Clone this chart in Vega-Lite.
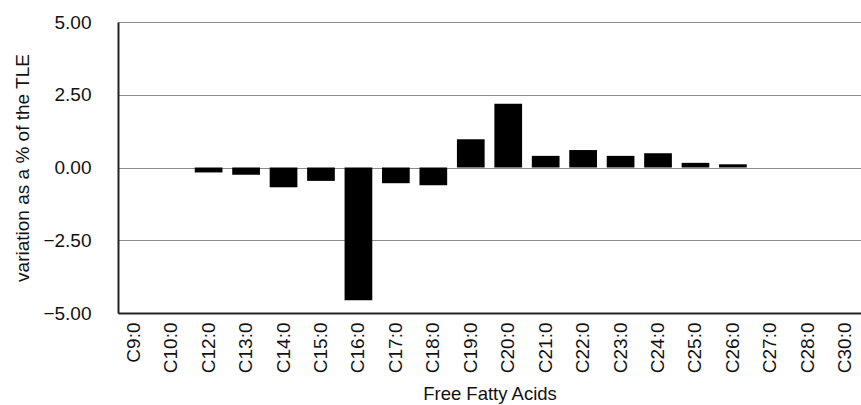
{
  "$schema": "https://vega.github.io/schema/vega-lite/v6.json",
  "width": 743,
  "height": 291,
  "autosize": "none",
  "padding": {"left": 118, "top": 22, "right": 0, "bottom": 92},
  "background": "white",
  "config": {
    "font": "Liberation Sans",
    "view": {"stroke": null}
  },
  "data": {
    "values": [
      {"acid": "C9:0", "variation": 0},
      {"acid": "C10:0", "variation": 0},
      {"acid": "C12:0", "variation": -0.17},
      {"acid": "C13:0", "variation": -0.25},
      {"acid": "C14:0", "variation": -0.68},
      {"acid": "C15:0", "variation": -0.46},
      {"acid": "C16:0", "variation": -4.56},
      {"acid": "C17:0", "variation": -0.54},
      {"acid": "C18:0", "variation": -0.61},
      {"acid": "C19:0", "variation": 0.97},
      {"acid": "C20:0", "variation": 2.19},
      {"acid": "C21:0", "variation": 0.4},
      {"acid": "C22:0", "variation": 0.6},
      {"acid": "C23:0", "variation": 0.4},
      {"acid": "C24:0", "variation": 0.49},
      {"acid": "C25:0", "variation": 0.16},
      {"acid": "C26:0", "variation": 0.11},
      {"acid": "C27:0", "variation": 0},
      {"acid": "C28:0", "variation": 0},
      {"acid": "C30:0", "variation": 0}
    ]
  },
  "mark": {"type": "bar", "color": "black"},
  "encoding": {
    "x": {
      "field": "acid",
      "type": "nominal",
      "sort": null,
      "scale": {"paddingInner": 0.26, "paddingOuter": 0.05},
      "axis": {
        "title": "Free Fatty Acids",
        "titleFontSize": 18.5,
        "titleFontWeight": "normal",
        "titleColor": "#111",
        "titlePadding": 12,
        "labelAngle": -90,
        "labelAlign": "right",
        "labelBaseline": "middle",
        "labelFontSize": 19,
        "labelColor": "#111",
        "labelPadding": 9,
        "ticks": false,
        "domainColor": "#222",
        "domainWidth": 2
      }
    },
    "y": {
      "field": "variation",
      "type": "quantitative",
      "scale": {"domain": [-5, 5], "nice": false, "zero": false},
      "axis": {
        "title": "variation as a % of the TLE",
        "titleFontSize": 19,
        "titleFontWeight": "normal",
        "titleColor": "#111",
        "titlePadding": 10,
        "values": [-5, -2.5, 0, 2.5, 5],
        "format": ".2f",
        "labelFontSize": 19,
        "labelColor": "#111",
        "labelPadding": 27,
        "ticks": false,
        "grid": true,
        "gridColor": "#8a8a8a",
        "gridWidth": 1,
        "domainColor": "#222",
        "domainWidth": 2
      }
    }
  }
}
